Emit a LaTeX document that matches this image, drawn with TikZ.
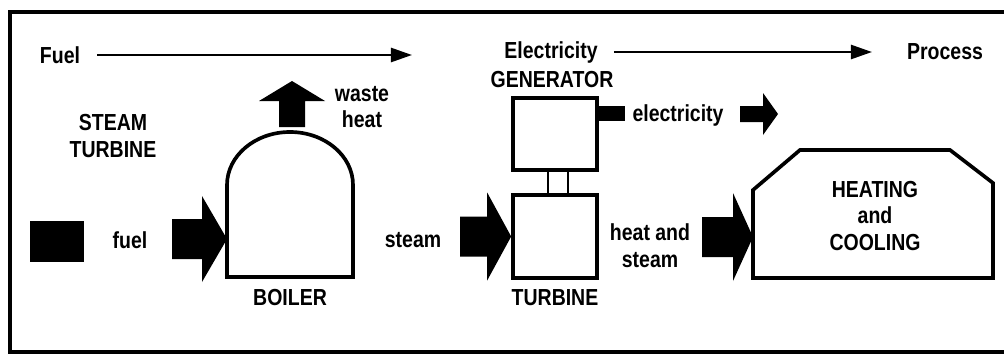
\documentclass[tikz,border=0pt]{standalone}
\usepackage{fontspec}
\setmainfont[FakeStretch=0.84]{Liberation Sans}
\usetikzlibrary{positioning, arrows.meta, calc}

\begin{document}
\begin{tikzpicture}[
                x=0.025cm, y=-0.025cm,
                font=\bfseries\fontsize{16.5}{19}\selectfont,
                outline/.style={line width=3pt},
                flow/.style={-{Triangle[length=15pt, width=10pt]}, line width=1.8pt},
                unit/.style={draw, line width=2.6pt},
                box_node/.style={unit, rectangle, minimum width=2.1cm, inner sep=0pt},
                shaft/.style={draw, line width=2pt},
                fat/.style={fill=black},
                label_text/.style={align=center, inner sep=2pt}
            ]
                \useasboundingbox (0,0) rectangle (1004,356);
                \draw[outline] (1004,12) -- (10,12) -- (10,352) -- (1004,352);

                % Top line
                \node[label_text] (fuelhead) at (60,55) {Fuel};
                \coordinate (fuelend) at (412,55);
                \draw[flow, shorten <=0.35cm] (fuelhead) -- (fuelend);
                \node[label_text] (elechead) at (551,52) {Electricity};
                \node[label_text] (prochead) at (945,52) {Process};
                \draw[flow, shorten <=0.33cm, shorten >=0.8cm] (elechead) -- (prochead);

                \node[label_text] (steamturbine) at (113,136) {STEAM\\TURBINE};

                % Fuel into boiler
                \node[fill, minimum width=1.35cm, minimum height=1.025cm, inner sep=0pt] (fuelblock) at (57,241.5) {};
                \node[label_text] (fueltext) at (130,240) {fuel};
                \coordinate (boilerin) at (227,239);
                \fill[fat] (boilerin) -- ++(-25,-43) -- ++(0,23) -- ++(-30,0) -- ++(0,40) -- ++(30,0) -- ++(0,23) -- cycle;

                % Boiler
                \draw[unit] (227,277) -- (227,185) arc[start angle=180, end angle=360, x radius=63, y radius=53] -- (353,277) -- cycle;
                \node[label_text] (boilertext) at (290,298) {BOILER};
                \coordinate (wasteout) at (292,81);
                \fill[fat] (wasteout) -- ++(-33,20) -- ++(20,0) -- ++(0,26) -- ++(26,0) -- ++(0,-26) -- ++(20,0) -- cycle;
                \node[label_text] (wastetext) at (362,107) {waste\\heat};

                % Steam into turbine
                \node[label_text] (steamtext) at (413,240) {steam};
                \node[box_node, minimum height=1.8cm] (generator) at (555,134) {};
                \node[box_node, minimum height=2.075cm] (turbine) at (555,236.5) {};
                \draw[shaft] ([xshift=-0.175cm]generator.south) -- ([xshift=-0.175cm]turbine.north);
                \draw[shaft] ([xshift=0.325cm]generator.south) -- ([xshift=0.325cm]turbine.north);
                \fill[fat] (turbine.west) -- ++(-24,-44) -- ++(0,24) -- ++(-27,0) -- ++(0,40) -- ++(27,0) -- ++(0,24) -- cycle;
                \node[label_text] (gentext) at (552,80) {GENERATOR};
                \node[label_text] (turbinetext) at (555,298) {TURBINE};

                % Electricity out
                \fill[fat] ($(generator.north east)+(0,10)$) rectangle ++(26,15);
                \node[label_text] (electext) at (678,115) {electricity};
                \coordinate (elecout) at (778,114);
                \fill[fat] (elecout) -- ++(-15,-21) -- ++(0,13) -- ++(-23,0) -- ++(0,16) -- ++(23,0) -- ++(0,13) -- cycle;

                % Heating and cooling
                \node[label_text] (heattext) at (650,246) {heat and\\steam};
                \coordinate (heatin) at (753,237);
                \fill[fat] (heatin) -- ++(-20,-44) -- ++(0,24) -- ++(-31,0) -- ++(0,40) -- ++(31,0) -- ++(0,24) -- cycle;
                \draw[unit] (753,278) -- (753,190) -- (800,150) -- (950,150) -- (993,183) -- (993,278) -- cycle;
                \node[label_text] (heating) at (875,216) {HEATING\\and\\COOLING};

            \end{tikzpicture}
\end{document}
